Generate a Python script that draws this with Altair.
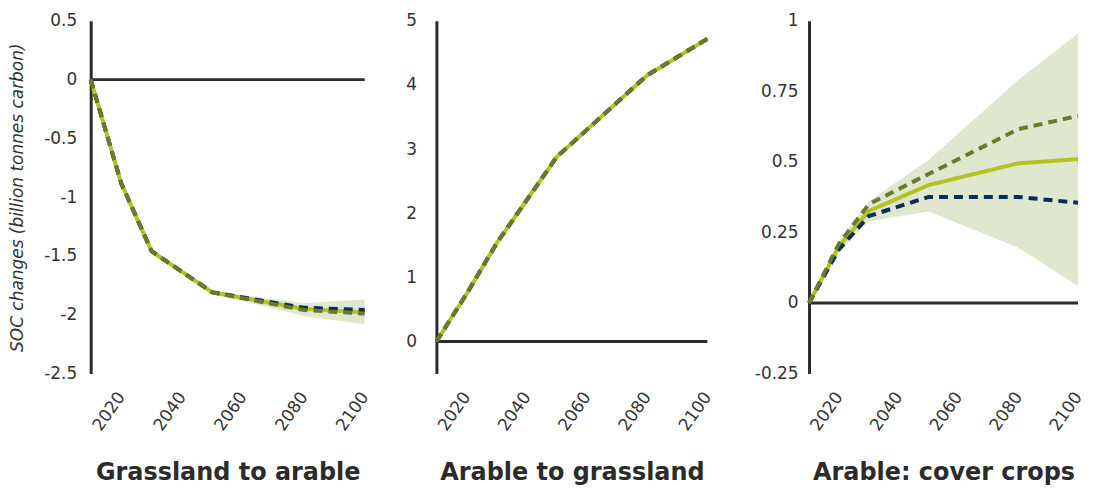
import altair as alt
import pandas as pd

years = [2010, 2020, 2030, 2050, 2080, 2100]

panels = ["Grassland to arable", "Arable to grassland", "Arable: cover crops"]

# Grassland to arable
g2a_mean = [0, -0.88, -1.46, -1.81, -1.95, -1.98]
g2a_olive = [0, -0.88, -1.46, -1.81, -1.96, -1.99]
g2a_navy = [0, -0.88, -1.46, -1.81, -1.94, -1.96]
g2a_lo = [0, -0.88, -1.46, -1.82, -2.01, -2.08]
g2a_hi = [0, -0.88, -1.46, -1.80, -1.90, -1.87]

# Arable to grassland
a2g_mean = [0, 0.74, 1.53, 2.88, 4.15, 4.72]
a2g_olive = [0, 0.74, 1.53, 2.88, 4.15, 4.72]
a2g_navy = [0, 0.74, 1.53, 2.88, 4.15, 4.72]
a2g_lo = [0, 0.74, 1.53, 2.88, 4.15, 4.72]
a2g_hi = [0, 0.74, 1.53, 2.88, 4.15, 4.72]

# Arable: cover crops
cc_mean = [0, 0.20, 0.326, 0.418, 0.495, 0.51]
cc_olive = [0, 0.21, 0.35, 0.457, 0.616, 0.663]
cc_navy = [0, 0.19, 0.308, 0.376, 0.376, 0.355]
cc_lo = [0, 0.18, 0.29, 0.324, 0.196, 0.06]
cc_hi = [0, 0.22, 0.36, 0.507, 0.79, 0.955]

x_ticks = [2020, 2040, 2060, 2080, 2100]
y_ticks = [
    [-2.5, -2, -1.5, -1, -0.5, 0, 0.5],
    [0, 1, 2, 3, 4, 5],
    [-0.25, 0, 0.25, 0.5, 0.75, 1],
]
y_domains = [[-2.5, 0.5], [-0.5, 5], [-0.25, 1]]

series_data = [
    (g2a_mean, g2a_olive, g2a_navy, g2a_lo, g2a_hi),
    (a2g_mean, a2g_olive, a2g_navy, a2g_lo, a2g_hi),
    (cc_mean, cc_olive, cc_navy, cc_lo, cc_hi),
]

FONT = "DejaVu Sans"
TXT = "#333333"
AX = "#2b2b2b"
BAND = "#dfe7cf"
LIGHT = "#b4c322"
OLIVE = "#6b7a2a"
NAVY = "#0c2d58"

widths = [275, 272, 270]
H = 354
label_pads = [14, 20, 11]
extents = [56, 64, 94]


def panel(i):
    mean, olive, navy, lo, hi = series_data[i]
    band_df = pd.DataFrame({"year": years, "lo": lo, "hi": hi})
    line_df = pd.DataFrame(
        {
            "year": years * 3,
            "value": mean + navy + olive,
            "series": ["mean"] * 6 + ["navy"] * 6 + ["olive"] * 6,
        }
    )
    zero_df = pd.DataFrame({"y": [0]})

    xs = alt.Scale(domain=[2010, 2100], nice=False, zero=False)
    ys = alt.Scale(domain=y_domains[i], nice=False, zero=False)

    xaxis = alt.Axis(
        values=x_ticks,
        labelAngle=-55,
        labelAlign="right",
        labelBaseline="middle",
        labelPadding=20,
        labelFont=FONT,
        labelFontSize=17,
        labelColor=TXT,
        domain=False,
        ticks=False,
        grid=False,
        format="d",
        title=panels[i],
        titleFont=FONT,
        titleFontSize=24,
        titleFontWeight="bold",
        titleColor=AX,
        titlePadding=27,
    )
    yaxis_kwargs = dict(
        values=y_ticks[i],
        labelExpr="'' + datum.value",
        labelFont=FONT,
        labelFontSize=17,
        labelColor=TXT,
        labelPadding=label_pads[i],
        domain=True,
        domainColor=AX,
        domainWidth=3,
        ticks=False,
        grid=False,
        minExtent=extents[i],
        maxExtent=extents[i],
    )
    if i == 0:
        yaxis = alt.Axis(
            title="SOC changes (billion tonnes carbon)",
            titleFont=FONT,
            titleFontSize=17,
            titleFontStyle="italic",
            titleFontWeight="normal",
            titleColor=TXT,
            titlePadding=8,
            **yaxis_kwargs,
        )
    else:
        yaxis = alt.Axis(title=None, **yaxis_kwargs)

    band = alt.Chart(band_df).mark_area(color=BAND, opacity=1).encode(
        x=alt.X("year:Q", scale=xs, axis=xaxis),
        y=alt.Y("lo:Q", scale=ys, axis=yaxis),
        y2="hi:Q",
    )
    zero = alt.Chart(zero_df).mark_rule(color=AX, strokeWidth=3).encode(
        y=alt.Y("y:Q", scale=ys)
    )
    lines = alt.Chart(line_df).mark_line(strokeWidth=4).encode(
        x=alt.X("year:Q", scale=xs),
        y=alt.Y("value:Q", scale=ys),
        color=alt.Color(
            "series:N",
            scale=alt.Scale(domain=["mean", "navy", "olive"], range=[LIGHT, NAVY, OLIVE]),
            legend=None,
        ),
        strokeDash=alt.StrokeDash(
            "series:N",
            scale=alt.Scale(domain=["mean", "navy", "olive"], range=[[1, 0], [9, 6], [9, 6]]),
            legend=None,
        ),
        order=alt.Order("series:N"),
        detail="series:N",
    )
    return alt.layer(band, zero, lines).properties(width=widths[i], height=H)


chart = (
    alt.hconcat(panel(0), panel(1), panel(2), spacing=0)
    .resolve_scale(x="independent", y="independent", color="independent", strokeDash="independent")
    .configure_view(strokeWidth=0)
    .properties(padding={"left": 1, "top": 3, "right": 0, "bottom": 0})
)

chart.save("out.html", embed_options={"renderer": "svg", "actions": False})
